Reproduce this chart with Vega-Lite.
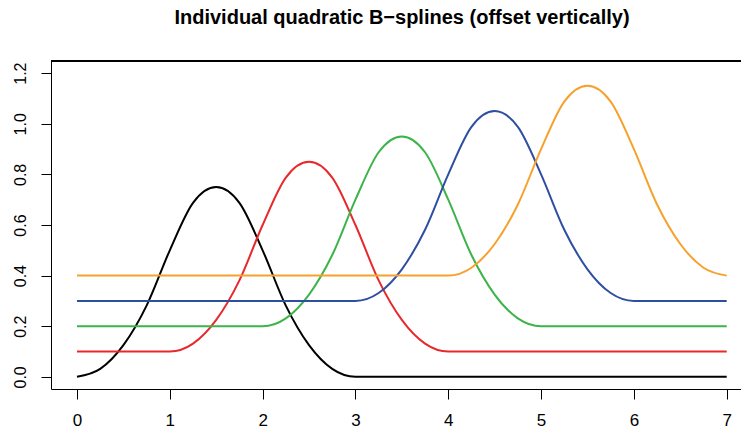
{
  "$schema": "https://vega.github.io/schema/vega-lite/v6.json",
  "width": 690,
  "height": 328,
  "autosize": {"type": "none"},
  "padding": {"left": 51, "top": 61, "right": 0, "bottom": 39},
  "background": "white",
  "config": {
    "view": {"stroke": null},
    "font": "Liberation Sans",
    "axis": {"domainColor": "black", "tickColor": "black", "labelColor": "black", "grid": false, "labelFont": "Liberation Sans", "labelFontSize": 16, "tickSize": 10, "domainWidth": 1, "tickWidth": 1}
  },
  "title": {
    "text": "Individual quadratic B−splines (offset vertically)",
    "font": "Liberation Sans",
    "fontSize": 20,
    "fontWeight": "bold",
    "color": "black",
    "anchor": "middle",
    "frame": "group",
    "offset": 33,
    "dx": 6
  },
  "data": {"values": [
    {"s": "1", "x": 0, "y": 0}, {"s": "1", "x": 0.25, "y": 0.03125}, {"s": "1", "x": 0.5, "y": 0.125}, {"s": "1", "x": 0.75, "y": 0.28125}, {"s": "1", "x": 1, "y": 0.5}, {"s": "1", "x": 1.25, "y": 0.6875}, {"s": "1", "x": 1.5, "y": 0.75}, {"s": "1", "x": 1.75, "y": 0.6875}, {"s": "1", "x": 2, "y": 0.5}, {"s": "1", "x": 2.25, "y": 0.28125}, {"s": "1", "x": 2.5, "y": 0.125}, {"s": "1", "x": 2.75, "y": 0.03125}, {"s": "1", "x": 3, "y": 0}, {"s": "1", "x": 7, "y": 0},
    {"s": "2", "x": 0, "y": 0.1}, {"s": "2", "x": 1, "y": 0.1}, {"s": "2", "x": 1.25, "y": 0.13125}, {"s": "2", "x": 1.5, "y": 0.225}, {"s": "2", "x": 1.75, "y": 0.38125}, {"s": "2", "x": 2, "y": 0.6}, {"s": "2", "x": 2.25, "y": 0.7875}, {"s": "2", "x": 2.5, "y": 0.85}, {"s": "2", "x": 2.75, "y": 0.7875}, {"s": "2", "x": 3, "y": 0.6}, {"s": "2", "x": 3.25, "y": 0.38125}, {"s": "2", "x": 3.5, "y": 0.225}, {"s": "2", "x": 3.75, "y": 0.13125}, {"s": "2", "x": 4, "y": 0.1}, {"s": "2", "x": 7, "y": 0.1},
    {"s": "3", "x": 0, "y": 0.2}, {"s": "3", "x": 2, "y": 0.2}, {"s": "3", "x": 2.25, "y": 0.23125}, {"s": "3", "x": 2.5, "y": 0.325}, {"s": "3", "x": 2.75, "y": 0.48125}, {"s": "3", "x": 3, "y": 0.7}, {"s": "3", "x": 3.25, "y": 0.8875}, {"s": "3", "x": 3.5, "y": 0.95}, {"s": "3", "x": 3.75, "y": 0.8875}, {"s": "3", "x": 4, "y": 0.7}, {"s": "3", "x": 4.25, "y": 0.48125}, {"s": "3", "x": 4.5, "y": 0.325}, {"s": "3", "x": 4.75, "y": 0.23125}, {"s": "3", "x": 5, "y": 0.2}, {"s": "3", "x": 7, "y": 0.2},
    {"s": "4", "x": 0, "y": 0.3}, {"s": "4", "x": 3, "y": 0.3}, {"s": "4", "x": 3.25, "y": 0.33125}, {"s": "4", "x": 3.5, "y": 0.425}, {"s": "4", "x": 3.75, "y": 0.58125}, {"s": "4", "x": 4, "y": 0.8}, {"s": "4", "x": 4.25, "y": 0.9875}, {"s": "4", "x": 4.5, "y": 1.05}, {"s": "4", "x": 4.75, "y": 0.9875}, {"s": "4", "x": 5, "y": 0.8}, {"s": "4", "x": 5.25, "y": 0.58125}, {"s": "4", "x": 5.5, "y": 0.425}, {"s": "4", "x": 5.75, "y": 0.33125}, {"s": "4", "x": 6, "y": 0.3}, {"s": "4", "x": 7, "y": 0.3},
    {"s": "5", "x": 0, "y": 0.4}, {"s": "5", "x": 4, "y": 0.4}, {"s": "5", "x": 4.25, "y": 0.43125}, {"s": "5", "x": 4.5, "y": 0.525}, {"s": "5", "x": 4.75, "y": 0.68125}, {"s": "5", "x": 5, "y": 0.9}, {"s": "5", "x": 5.25, "y": 1.0875}, {"s": "5", "x": 5.5, "y": 1.15}, {"s": "5", "x": 5.75, "y": 1.0875}, {"s": "5", "x": 6, "y": 0.9}, {"s": "5", "x": 6.25, "y": 0.68125}, {"s": "5", "x": 6.5, "y": 0.525}, {"s": "5", "x": 6.75, "y": 0.43125}, {"s": "5", "x": 7, "y": 0.4}
  ]},
  "layer": [
    {
      "mark": {"type": "line", "interpolate": "monotone", "strokeWidth": 2, "clip": true},
      "encoding": {
        "x": {"field": "x", "type": "quantitative", "scale": {"domain": [-0.28, 7.154], "nice": false, "zero": false},
              "axis": {"values": [0, 1, 2, 3, 4, 5, 6, 7], "title": null, "format": "d", "labelPadding": 13, "labelFontSize": 17}},
        "y": {"field": "y", "type": "quantitative", "scale": {"domain": [-0.048, 1.248], "nice": false, "zero": false},
              "axis": {"values": [0, 0.2, 0.4, 0.6, 0.8, 1.0, 1.2], "title": null, "format": ".1f", "labelAngle": 270, "labelAlign": "center", "labelBaseline": "bottom", "labelPadding": 13}},
        "color": {"field": "s", "type": "nominal", "legend": null,
                  "scale": {"domain": ["1", "2", "3", "4", "5"], "range": ["#000000", "#e8292b", "#3db44a", "#2e4fa1", "#f7a12d"]}},
        "order": {"field": "x"}
      }
    },
    {
      "mark": {"type": "rule", "color": "black", "strokeWidth": 1},
      "encoding": {"y": {"datum": 1.248}}
    }
  ]
}
